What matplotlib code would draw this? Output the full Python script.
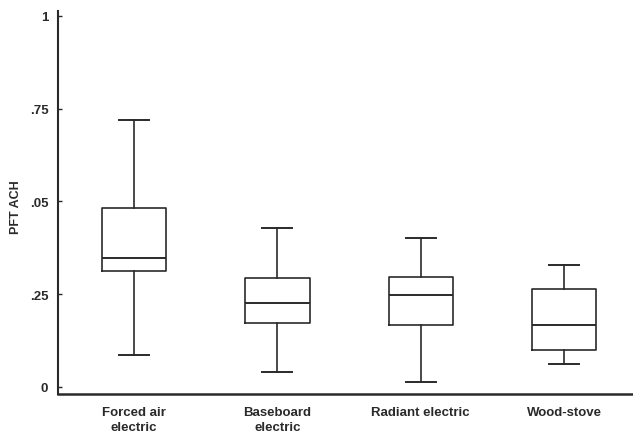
import matplotlib
matplotlib.use("Agg")
import matplotlib.pyplot as plt

categories = ["Forced air\nelectric", "Baseboard\nelectric", "Radiant electric", "Wood-stove"]
whisker_low = [0.087, 0.040, 0.014, 0.062]
q1 = [0.313, 0.172, 0.167, 0.100]
median = [0.348, 0.226, 0.248, 0.167]
q3 = [0.481, 0.294, 0.296, 0.263]
whisker_high = [0.720, 0.428, 0.402, 0.329]
tick_values = [0, 0.25, 0.5, 0.75, 1]
tick_labels = ["0", ".25", ".05", ".75", "1"]

plt.rcParams['font.family'] = ['Liberation Sans', 'DejaVu Sans']

fig = plt.figure(figsize=(6.33, 4.35), dpi=100)
ax = fig.add_axes([58/633, (435-395)/435, (633-58)/633, (395-12)/435])

stats = []
for i in range(len(categories)):
    stats.append(dict(whislo=whisker_low[i], q1=q1[i], med=median[i], q3=q3[i],
                      whishi=whisker_high[i], fliers=[], label=categories[i]))

lc = "#2a2a2a"
ax.bxp(stats, positions=range(1, 5), widths=0.45, showfliers=False,
       boxprops=dict(color=lc, linewidth=1.2),
       medianprops=dict(color=lc, linewidth=1.4),
       whiskerprops=dict(color=lc, linewidth=1.2),
       capprops=dict(color=lc, linewidth=1.4),
       capwidths=0.21)

ax.set_xlim(0.47, 4.48)
ax.set_ylim(-0.019, 1.013)
ax.set_yticks(tick_values)
ax.set_yticklabels(tick_labels, fontsize=9.5, fontweight='bold', color=lc)
ax.tick_params(axis='y', direction='in', length=3, width=1, pad=7, colors=lc)
ax.tick_params(axis='x', length=0, pad=9)
for lab in ax.get_xticklabels():
    lab.set_fontsize(9.5)
    lab.set_fontweight('bold')
    lab.set_color(lc)
    lab.set_linespacing(1.25)

ax.set_ylabel("PFT ACH", fontsize=9, fontweight='bold', color=lc)
ax.yaxis.set_label_coords(-0.062, 0.49)
for s in ["top", "right"]:
    ax.spines[s].set_visible(False)
ax.spines["left"].set_color(lc)
ax.spines["left"].set_linewidth(1.5)
ax.spines["bottom"].set_color(lc)
ax.spines["bottom"].set_linewidth(1.8)

fig.savefig("out.png", dpi=100)
